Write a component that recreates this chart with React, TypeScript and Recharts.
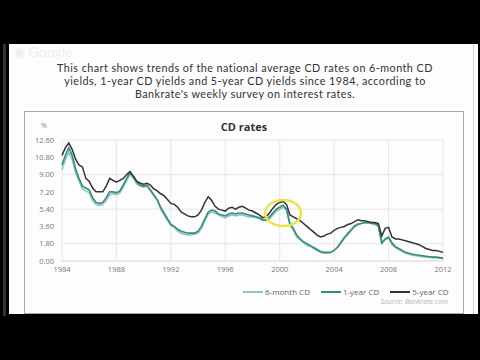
import { LineChart, Line, XAxis, YAxis, CartesianGrid, ReferenceDot } from "recharts"

const years = [
  1984, 1984.25, 1984.5, 1984.75, 1985, 1985.25, 1985.5, 1985.75, 1986, 1986.25, 1986.5, 1986.75,
  1987, 1987.25, 1987.5, 1987.75, 1988, 1988.25, 1988.5, 1988.75, 1989, 1989.25, 1989.5, 1989.75,
  1990, 1990.25, 1990.5, 1990.75, 1991, 1991.25, 1991.5, 1991.75, 1992, 1992.25, 1992.5, 1992.75,
  1993, 1993.25, 1993.5, 1993.75, 1994, 1994.25, 1994.5, 1994.75, 1995, 1995.25, 1995.5, 1995.75,
  1996, 1996.25, 1996.5, 1996.75, 1997, 1997.25, 1997.5, 1997.75, 1998, 1998.25, 1998.5, 1998.75,
  1999, 1999.25, 1999.5, 1999.75, 2000, 2000.25, 2000.5, 2000.75, 2001, 2001.25, 2001.5, 2001.75,
  2002, 2002.25, 2002.5, 2002.75, 2003, 2003.25, 2003.5, 2003.75, 2004, 2004.25, 2004.5, 2004.75,
  2005, 2005.25, 2005.5, 2005.75, 2006, 2006.25, 2006.5, 2006.75, 2007, 2007.25, 2007.5, 2007.75,
  2008, 2008.25, 2008.5, 2008.75, 2009, 2009.25, 2009.5, 2009.75, 2010, 2010.25, 2010.5, 2010.75,
  2011, 2011.25, 2011.5, 2011.75, 2012,
]

const fiveYear = [
  11.0, 11.8, 12.3, 11.6, 10.6, 10.0, 9.8, 8.6, 8.3, 7.6, 7.2, 7.2,
  7.2, 7.8, 8.6, 8.4, 8.2, 8.4, 8.6, 9.0, 9.3, 8.8, 8.3, 8.1,
  8.0, 8.1, 7.9, 7.5, 7.3, 7.0, 6.8, 6.4, 6.0, 5.9, 5.6, 5.1,
  4.9, 4.7, 4.6, 4.6, 4.8, 5.3, 6.1, 6.7, 6.3, 5.7, 5.4, 5.3,
  5.2, 5.5, 5.6, 5.4, 5.6, 5.7, 5.5, 5.3, 5.2, 5.0, 4.8, 4.5,
  4.6, 5.0, 5.5, 5.9, 6.1, 6.2, 5.9, 4.8, 4.6, 4.4, 4.2, 3.9,
  3.6, 3.3, 3.0, 2.7, 2.5, 2.6, 2.8, 2.9, 3.2, 3.4, 3.5, 3.6,
  3.8, 3.9, 4.1, 4.3, 4.2, 4.2, 4.1, 4.0, 4.0, 3.9, 2.6, 3.4,
  3.5, 2.5, 2.3, 2.3, 2.2, 2.1, 2.0, 1.9, 1.8, 1.7, 1.5, 1.3,
  1.2, 1.1, 1.1, 1.0, 0.9,
]

const oneYear = [
  10.0, 11.0, 11.8, 11.0, 9.6, 8.6, 7.8, 7.6, 7.4, 6.6, 6.1, 6.0,
  6.1, 6.6, 7.2, 7.2, 7.1, 7.3, 7.9, 8.6, 9.2, 8.8, 8.2, 7.9,
  7.8, 7.9, 7.4, 6.9, 6.4, 5.6, 5.0, 4.4, 3.8, 3.6, 3.3, 3.1,
  3.0, 2.9, 2.9, 2.9, 3.1, 3.6, 4.4, 5.1, 5.3, 5.2, 4.9, 4.8,
  4.7, 4.9, 5.0, 4.9, 5.0, 5.0, 4.9, 4.8, 4.7, 4.6, 4.5, 4.3,
  4.3, 4.6, 5.0, 5.4, 5.6, 5.8, 5.4, 3.9, 3.4, 2.7, 2.3, 2.0,
  1.8, 1.6, 1.4, 1.2, 1.0, 0.9, 0.9, 0.9, 1.1, 1.4, 1.9, 2.4,
  2.8, 3.2, 3.6, 3.8, 3.9, 4.0, 4.0, 3.9, 3.9, 3.7, 1.9, 2.3,
  2.5, 1.9, 1.5, 1.3, 1.1, 0.9, 0.8, 0.7, 0.65, 0.6, 0.55, 0.5,
  0.45, 0.4, 0.4, 0.35, 0.3,
]

const sixMonth = [
  9.5, 10.6, 11.3, 10.6, 9.2, 8.3, 7.5, 7.3, 7.1, 6.3, 5.9, 5.8,
  5.9, 6.3, 6.9, 7.0, 6.9, 7.1, 7.7, 8.4, 9.0, 8.6, 8.0, 7.8,
  7.7, 7.8, 7.3, 6.8, 6.3, 5.4, 4.8, 4.2, 3.7, 3.5, 3.1, 2.9,
  2.8, 2.7, 2.7, 2.8, 2.9, 3.4, 4.2, 4.9, 5.1, 5.0, 4.8, 4.6,
  4.5, 4.7, 4.8, 4.7, 4.8, 4.8, 4.7, 4.6, 4.6, 4.5, 4.4, 4.2,
  4.2, 4.4, 4.8, 5.2, 5.4, 5.6, 5.3, 3.7, 3.2, 2.5, 2.2, 1.9,
  1.6, 1.5, 1.3, 1.1, 0.9, 0.8, 0.8, 0.9, 1.1, 1.5, 2.0, 2.5,
  2.9, 3.3, 3.7, 3.9, 3.9, 4.0, 4.0, 3.9, 3.8, 3.6, 1.8, 2.2,
  2.4, 1.7, 1.4, 1.2, 1.0, 0.8, 0.7, 0.6, 0.55, 0.5, 0.45, 0.4,
  0.4, 0.35, 0.35, 0.3, 0.25,
]

const yTicks = [0, 1.8, 3.6, 5.4, 7.2, 9.0, 10.8, 12.6]
const xTicks = [1984, 1988, 1992, 1996, 2000, 2004, 2008, 2012]

const seriesNames = ["6-month CD", "1-year CD", "5-year CD"]
const seriesColors = ["#86c6c4", "#3b8a7b", "#333333"]

const data = years.map((year, i) => ({
  year,
  sixMonth: sixMonth[i],
  oneYear: oneYear[i],
  fiveYear: fiveYear[i],
}))

const font = "'Open Sans', sans-serif"

function Highlight(props: any) {
  const { cx, cy } = props
  return <ellipse cx={cx} cy={cy} rx={18} ry={13} fill="none" stroke="#e6e64a" strokeWidth={2.5} />
}

export default function App() {
  return (
    <div style={{ position: "fixed", left: 0, top: 0, width: 480, height: 360, background: "#000", fontFamily: font }}>
      <div style={{ position: "absolute", left: 3, top: 44, width: 3, height: 272, background: "#333" }} />
      <div style={{ position: "absolute", left: 9, top: 44, width: 469, height: 270, background: "#fdfdfd" }} />
      <div style={{ position: "absolute", left: 473, top: 44, width: 1, height: 270, background: "#d4d4d4" }} />
      <div style={{ position: "absolute", left: 13, top: 45, fontSize: 14, lineHeight: "14px", color: "#efefef", fontFamily: "Lato, sans-serif" }}>
        ◉ Google
      </div>

      <div
        style={{
          position: "absolute",
          left: 10,
          top: 61,
          width: 470,
          textAlign: "center",
          fontSize: 10.8,
          letterSpacing: 0.45,
          lineHeight: "13px",
          color: "#333",
          fontFamily: "Lato, sans-serif",
        }}
      >
        This chart shows trends of the national average CD rates on 6-month CD
        <br />
        yields, 1-year CD yields and 5-year CD yields since 1984, according to
        <br />
        Bankrate's weekly survey on interest rates.
      </div>

      <div
        style={{
          position: "absolute",
          left: 24,
          top: 111,
          width: 440,
          height: 203,
          border: "1px solid #a8a8a8",
          boxSizing: "border-box",
          background: "#fdfdfd",
        }}
      />
      <div style={{ position: "absolute", left: 24, top: 119, width: 440, textAlign: "center", fontSize: 11, fontWeight: 700, color: "#333" }}>
        CD rates
      </div>
      <div style={{ position: "absolute", left: 41, top: 121, fontSize: 7, color: "#888" }}>%</div>

      <div style={{ position: "absolute", left: 24, top: 111 }}>
        <LineChart width={439} height={202} data={data} margin={{ top: 29, right: 20, bottom: 31, left: 0 }}>
          <CartesianGrid stroke="#e6e6e6" strokeWidth={1} />
          <XAxis
            dataKey="year"
            type="number"
            domain={[1984, 2012]}
            ticks={xTicks}
            tick={{ fontSize: 7.5, fill: "#777", fontFamily: font }}
            tickLine={false}
            axisLine={{ stroke: "#e0e0e0" }}
            tickSize={4}
            height={21}
          />
          <YAxis
            type="number"
            domain={[0, 12.6]}
            ticks={yTicks}
            tickFormatter={(v) => v.toFixed(2)}
            tick={{ fontSize: 7.5, fill: "#777", fontFamily: font }}
            tickLine={false}
            axisLine={false}
            width={38}
          />
          <Line dataKey="sixMonth" stroke={seriesColors[0]} strokeWidth={1.6} dot={false} isAnimationActive={false} />
          <Line dataKey="oneYear" stroke={seriesColors[1]} strokeWidth={1.6} dot={false} isAnimationActive={false} />
          <Line dataKey="fiveYear" stroke={seriesColors[2]} strokeWidth={1.5} dot={false} isAnimationActive={false} />
          <ReferenceDot x={2000.25} y={5.0} r={14} shape={<Highlight />} />
        </LineChart>
      </div>

      <div style={{ position: "absolute", left: 243, top: 286, display: "flex", alignItems: "center", fontSize: 8, color: "#666" }}>
        {seriesNames.map((name, i) => (
          <div key={name} style={{ display: "flex", alignItems: "center", marginRight: i < 2 ? 11 : 0 }}>
            <svg width={20} height={4} style={{ marginRight: 2 }}>
              <line x1={0} y1={2} x2={20} y2={2} stroke={seriesColors[i]} strokeWidth={2} />
            </svg>
            <span>{name}</span>
          </div>
        ))}
      </div>
      <div style={{ position: "absolute", left: 300, width: 148, top: 297, textAlign: "right", fontSize: 7, fontStyle: "italic", color: "#b4b4b4" }}>
        Source: Bankrate.com
      </div>
    </div>
  )
}
